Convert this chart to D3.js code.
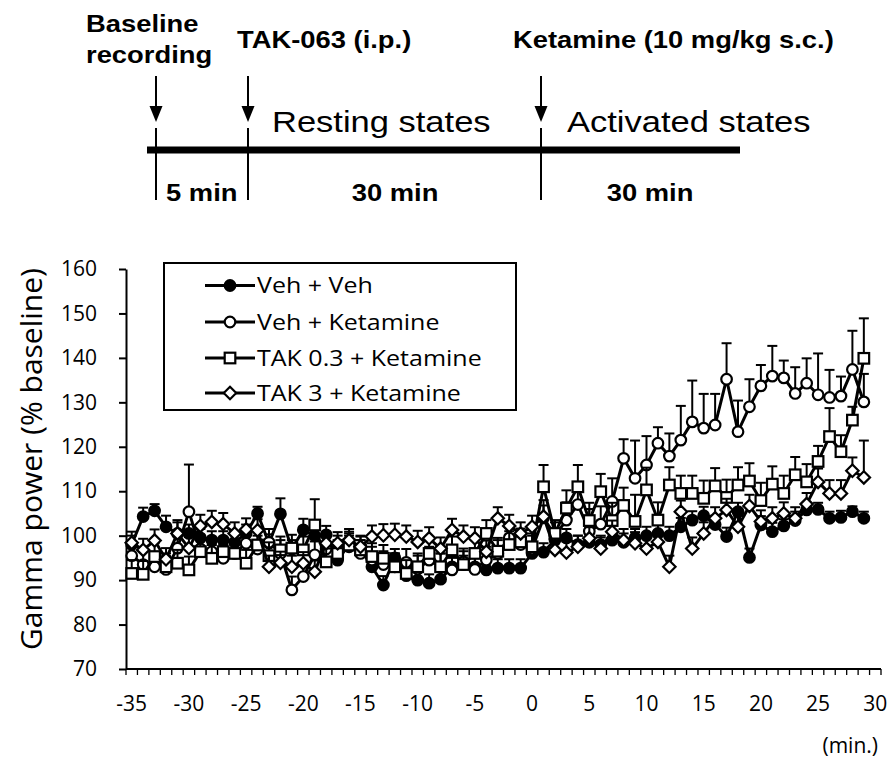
<!DOCTYPE html>
<html>
<head>
<meta charset="utf-8">
<script src="https://cdn.jsdelivr.net/npm/d3@7"></script>
<style>
  body { margin: 0; background: #fff; }
  svg { display: block; }
</style>
</head>
<body>
<div id="grafico"></div>
<script>
// minutes relative to ketamine injection
const minutos = [-35, -34, -33, -32, -31, -30, -29, -28, -27, -26, -25, -24, -23, -22, -21, -20, -19, -18, -17, -16,
  -15, -14, -13, -12, -11, -10, -9, -8, -7, -6, -5, -4, -3, -2, -1, 0, 1, 2, 3, 4,
  5, 6, 7, 8, 9, 10, 11, 12, 13, 14, 15, 16, 17, 18, 19, 20, 21, 22, 23, 24,
  25, 26, 27, 28, 29];
const categoriasEixo = minutos.concat([30]);
const rotulosX = [-35, -30, -25, -20, -15, -10, -5, 0, 5, 10, 15, 20, 25, 30];
const ticksY = [70, 80, 90, 100, 110, 120, 130, 140, 150, 160];

const nomesSeries = ["Veh + Veh", "Veh + Ketamine", "TAK 0.3 + Ketamine", "TAK 3 + Ketamine"];

const vehVeh = [98.0, 104.3, 105.6, 102.0, 100.5, 100.5, 99.5, 99.0, 99.0, 98.5, 100.5, 105.0, 98.3, 104.9, 97.0, 101.3, 100.0, 100.2, 94.5, 98.0,
  97.0, 93.0, 88.9, 95.0, 91.0, 90.0, 89.3, 90.2, 93.0, 93.5, 93.0, 92.3, 92.7, 92.7, 92.7, 96.0, 96.3, 99.0, 99.5, 98.0,
  98.5, 98.0, 99.0, 98.5, 99.5, 100.0, 100.5, 100.0, 102.0, 103.5, 104.5, 102.5, 99.8, 105.4, 95.1, 102.4, 100.9, 102.2, 103.4, 105.8,
  105.9, 103.9, 104.1, 105.4, 103.9];
const vehVehErr = [2, 2, 1.5, 2.5, 3, 2, 2, 2, 2, 2, 2, 1.5, 2, 3.5, 2, 2.5, 2, 2, 2, 2,
  2, 2, 2, 2, 2, 2, 2, 2, 2, 2, 2, 2, 2, 2, 2, 2, 2, 2, 2, 2,
  2, 2, 2, 2, 2, 2, 2, 2, 2, 2, 2, 2, 2, 2, 2, 2, 2, 1.5, 2, 1.5,
  1.5, 1.5, 1.5, 1.2, 1.5];

const vehKet = [95.5, 93.5, 93.0, 92.4, 97.2, 105.4, 97.0, 96.4, 94.9, 96.0, 98.3, 97.0, 98.5, 96.0, 87.8, 90.8, 95.7, 97.0, 97.0, 97.5,
  96.0, 94.5, 93.5, 93.0, 94.0, 92.5, 94.5, 93.0, 92.3, 94.1, 92.4, 94.5, 96.0, 99.5, 98.0, 97.0, 104.0, 100.0, 103.5, 107.0,
  101.0, 102.6, 107.7, 117.4, 112.9, 115.9, 120.8, 117.9, 121.5, 125.6, 124.2, 124.9, 135.2, 123.4, 129.0, 133.7, 135.9, 135.5, 132.0, 134.3,
  131.7, 131.1, 131.4, 137.4, 130.1];
const vehKetErr = [3, 3, 2.5, 3, 3, 10.6, 3, 3, 3, 3, 2.5, 3, 3, 3, 3, 3, 3, 3, 3, 3,
  3, 3, 3, 3, 3, 3, 3, 3, 3, 3, 3, 3, 3, 3, 3, 3, 4, 3, 4, 4,
  5, 4, 5.2, 4.3, 8.5, 6.5, 3.6, 5.1, 7.7, 9.3, 7.7, 7.0, 8.1, 7.0, 6.2, 4.7, 6.8, 3.9, 5.9, 5.6,
  9.3, 6.2, 4.4, 8.7, 6.3];

const tak03 = [91.5, 91.3, 95.3, 93.0, 93.8, 92.3, 96.4, 94.9, 96.4, 96.0, 93.8, 97.9, 95.5, 96.8, 97.2, 96.8, 102.4, 94.1, 96.0, 97.9,
  96.8, 95.3, 94.9, 93.0, 91.5, 93.0, 96.0, 93.0, 96.8, 93.5, 96.0, 100.5, 96.5, 98.0, 98.6, 97.5, 111.0, 100.5, 106.2, 111.0,
  103.4, 109.9, 103.4, 106.8, 103.2, 110.3, 103.5, 111.4, 109.5, 109.5, 108.4, 111.2, 108.6, 111.4, 112.3, 107.9, 111.6, 109.5, 113.7, 112.1,
  116.7, 122.3, 118.9, 126.0, 139.9];
const tak03Err = [3, 3, 3, 3, 3, 3, 3, 3, 3, 3, 3, 3, 3, 3, 3, 3, 5.8, 3, 3, 3,
  3, 3, 3, 3, 3, 3, 3, 3, 3, 3, 3, 3, 3, 3, 3, 3, 4.9, 3, 4, 4.9,
  4, 4, 4, 4, 6, 5, 4, 4, 4, 4, 4, 4, 4, 4, 4, 4, 4, 4, 4, 4,
  3.5, 6.4, 3.7, 3, 9.0];

const tak3 = [98.4, 96.8, 98.9, 94.7, 100.5, 97.2, 102.2, 103.1, 102.6, 100.5, 101.4, 101.2, 93.0, 93.9, 93.0, 93.8, 91.9, 98.3, 98.3, 99.0,
  97.5, 99.8, 100.1, 100.2, 99.8, 98.6, 99.4, 97.1, 101.3, 99.8, 99.4, 96.4, 103.9, 102.2, 100.5, 102.0, 104.3, 96.8, 96.2, 97.5,
  99.4, 97.1, 100.9, 99.0, 98.3, 97.1, 98.6, 93.0, 105.4, 97.1, 100.5, 103.9, 105.8, 102.0, 106.7, 103.2, 103.9, 105.0, 103.9, 107.1,
  112.1, 109.5, 109.5, 114.6, 113.1];
const tak3Err = [2.5, 2.5, 2.5, 2.5, 2.5, 2.5, 2.5, 2.5, 2.5, 2.5, 2.5, 2.5, 2.5, 2.5, 2.5, 2.5, 2.5, 2.5, 2.5, 2.5,
  2.5, 2.5, 2.5, 2.5, 2.5, 2.5, 2.5, 2.5, 2.5, 2.5, 2.5, 2.5, 2.5, 2.5, 2.5, 2.5, 2.5, 2.5, 2.5, 2.5,
  2.5, 2.5, 2.5, 2.5, 2.5, 2.5, 2.5, 2.5, 2.5, 2.5, 2.5, 2.5, 2.5, 2.5, 2.5, 2.5, 2.5, 2.5, 2.5, 2.5,
  3, 3, 3, 3, 8.3];

// timeline schematic labels
const marcosTempo = ["Baseline recording", "TAK-063 (i.p.)", "Ketamine (10 mg/kg s.c.)"];
const duracoes = ["5 min", "30 min", "30 min"];
const fases = ["Resting states", "Activated states"];

const largura = 892, altura = 761;
const esticar = 1.19; // original figure is stretched horizontally
const svg = d3.select("#grafico").append("svg")
  .attr("width", largura)
  .attr("height", altura);
svg.append("rect").attr("width", largura).attr("height", altura).attr("fill", "#fff");

// texto esticado horizontalmente
function texto(g, x, y, s, opts) {
  return g.append("text")
    .attr("transform", `translate(${x},${y}) scale(${opts.sx || 1},1)`)
    .attr("text-anchor", opts.anchor || "start")
    .attr("font-family", opts.font || "'Open Sans', sans-serif")
    .attr("font-size", opts.size)
    .attr("font-weight", opts.weight || "normal")
    .attr("fill", "#000")
    .text(s);
}

// ---------- esquema da linha do tempo ----------
const topo = svg.append("g");
const arial = "'Liberation Sans', Arial, sans-serif";
const setasX = [156, 248, 541];

topo.append("line").attr("x1", 147).attr("x2", 740).attr("y1", 150).attr("y2", 150)
  .attr("stroke", "#000").attr("stroke-width", 7);

setasX.forEach(x => {
  topo.append("line").attr("x1", x).attr("x2", x).attr("y1", 76).attr("y2", 108)
    .attr("stroke", "#000").attr("stroke-width", 2);
  topo.append("path").attr("d", `M${x - 6.5},106 L${x + 6.5},106 L${x},122 Z`).attr("fill", "#000");
  topo.append("line").attr("x1", x).attr("x2", x).attr("y1", 128).attr("y2", 200)
    .attr("stroke", "#000").attr("stroke-width", 2);
});

const boldTopo = { font: arial, size: 23, weight: "bold", sx: esticar };
const linhas = marcosTempo[0].split(" ");
texto(topo, 86, 32, linhas[0], boldTopo);
texto(topo, 86, 63, linhas[1], boldTopo);
texto(topo, 237, 48, marcosTempo[1], boldTopo);
texto(topo, 513, 48, marcosTempo[2], boldTopo);

texto(topo, 166, 201, duracoes[0], boldTopo);
texto(topo, 395, 201, duracoes[1], Object.assign({}, boldTopo, { anchor: "middle" }));
texto(topo, 650, 201, duracoes[2], Object.assign({}, boldTopo, { anchor: "middle" }));

texto(topo, 272, 132, fases[0], { font: arial, size: 29, sx: esticar });
texto(topo, 567, 132, fases[1], { font: arial, size: 29, sx: esticar });

// ---------- gráfico ----------
const area = { left: 126, right: 881, top: 269, bottom: 669 };

const eixoX = d3.scaleBand().domain(categoriasEixo).range([area.left, area.right]).paddingInner(0).paddingOuter(0);
const eixoY = d3.scaleLinear().domain([70, 160]).range([area.bottom, area.top]);
const cx = m => eixoX(m) + eixoX.bandwidth() / 2;

const g = svg.append("g");

// eixo Y
const gy = g.append("g")
  .attr("transform", `translate(${area.left},0)`)
  .call(d3.axisLeft(eixoY).tickValues(ticksY).tickSize(7).tickSizeOuter(0).tickPadding(22));
gy.select(".domain").attr("stroke-width", 2);
gy.selectAll(".tick line").attr("stroke-width", 2);
gy.selectAll(".tick text").attr("font-family", "'Open Sans', sans-serif").attr("font-size", 21).attr("fill", "#000");

// eixo X (categorias, marcas entre categorias)
const gx = g.append("g").attr("transform", `translate(0,${area.bottom})`);
gx.append("line").attr("x1", area.left).attr("x2", area.right).attr("y1", 0).attr("y2", 0)
  .attr("stroke", "#000").attr("stroke-width", 2);
gx.selectAll("line.marca")
  .data(categoriasEixo.concat(["fim"]))
  .join("line")
  .attr("class", "marca")
  .attr("x1", d => d === "fim" ? area.right : eixoX(d))
  .attr("x2", d => d === "fim" ? area.right : eixoX(d))
  .attr("y1", 0).attr("y2", 6)
  .attr("stroke", "#000").attr("stroke-width", 1.3);
gx.selectAll("text.rotulo")
  .data(rotulosX)
  .join("text")
  .attr("class", "rotulo")
  .attr("x", d => cx(d))
  .attr("y", 42)
  .attr("text-anchor", "middle")
  .attr("font-family", "'Open Sans', sans-serif")
  .attr("font-size", 21)
  .text(d => d);

texto(g, 878, 753, "(min.)", { size: 21, anchor: "end" });

// rótulo do eixo Y
g.append("text")
  .attr("transform", `translate(42,${(area.top + area.bottom) / 2 - 10}) rotate(-90)`)
  .attr("text-anchor", "middle")
  .attr("font-family", "'Open Sans', sans-serif")
  .attr("font-size", 30)
  .text("Gamma power (% baseline)");

// séries
const series = [
  { nome: nomesSeries[0], valores: vehVeh, erros: vehVehErr, simbolo: "circulo", fill: "#000" },
  { nome: nomesSeries[1], valores: vehKet, erros: vehKetErr, simbolo: "circulo", fill: "#fff" },
  { nome: nomesSeries[2], valores: tak03, erros: tak03Err, simbolo: "quadrado", fill: "#fff" },
  { nome: nomesSeries[3], valores: tak3, erros: tak3Err, simbolo: "losango", fill: "#fff" }
];

function desenhaMarcador(sel, s) {
  if (s.simbolo === "circulo") {
    sel.append("circle").attr("r", 5.3);
  } else if (s.simbolo === "quadrado") {
    sel.append("rect").attr("x", -5.3).attr("y", -5.3).attr("width", 10.6).attr("height", 10.6);
  } else {
    sel.append("path").attr("d", "M0,-6.2 L6.2,0 L0,6.2 L-6.2,0 Z");
  }
  sel.selectAll("*").attr("fill", s.fill).attr("stroke", "#000").attr("stroke-width", 2.2);
}

const linha = d3.line().x(d => cx(d.m)).y(d => eixoY(d.v));

series.forEach(s => {
  const pontos = minutos.map((m, i) => ({ m: m, v: s.valores[i], e: s.erros[i] }));
  const gs = g.append("g");

  // barras de erro (só para cima)
  const gErr = gs.append("g").attr("stroke", "#000").attr("stroke-width", 2);
  gErr.selectAll("line.vert").data(pontos).join("line").attr("class", "vert")
    .attr("x1", d => cx(d.m)).attr("x2", d => cx(d.m))
    .attr("y1", d => eixoY(d.v)).attr("y2", d => eixoY(d.v + d.e));
  gErr.selectAll("line.cap").data(pontos).join("line").attr("class", "cap")
    .attr("x1", d => cx(d.m) - 5).attr("x2", d => cx(d.m) + 5)
    .attr("y1", d => eixoY(d.v + d.e)).attr("y2", d => eixoY(d.v + d.e));

  gs.append("path").datum(pontos)
    .attr("d", linha)
    .attr("fill", "none").attr("stroke", "#000").attr("stroke-width", 3).attr("stroke-linejoin", "round");

  gs.selectAll("g.marcador").data(pontos).join("g").attr("class", "marcador")
    .attr("transform", d => `translate(${cx(d.m)},${eixoY(d.v)})`)
    .each(function() { desenhaMarcador(d3.select(this), s); });
});

// legenda
const leg = svg.append("g");
leg.append("rect").attr("x", 164).attr("y", 263).attr("width", 352).attr("height", 147)
  .attr("fill", "#fff").attr("stroke", "#000").attr("stroke-width", 2);
const linhasLegenda = [285.5, 322, 358, 393];
series.forEach((s, i) => {
  const yl = linhasLegenda[i];
  leg.append("line").attr("x1", 205).attr("x2", 255).attr("y1", yl).attr("y2", yl)
    .attr("stroke", "#000").attr("stroke-width", 3);
  const mk = leg.append("g").attr("transform", `translate(230,${yl})`);
  desenhaMarcador(mk, s);
  texto(leg, 257, yl + 7.5, s.nome, { size: 21, sx: esticar });
});
</script>
</body>
</html>
